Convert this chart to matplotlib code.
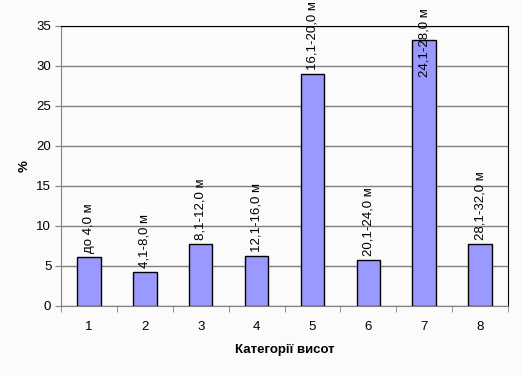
import numpy as np
import matplotlib.pyplot as plt

# height categories and share of trees (%)
categories = ['1', '2', '3', '4', '5', '6', '7', '8']
values = [6.1, 4.2, 7.7, 6.2, 29.0, 5.7, 33.2, 7.7]
bar_labels = ['до 4,0 м', '4,1-8,0 м', '8,1-12,0 м', '12,1-16,0 м',
              '16,1-20,0 м', '20,1-24,0 м', '24,1-28,0 м', '28,1-32,0 м']
y_ticks = [0, 5, 10, 15, 20, 25, 30, 35]

plt.rcParams['font.family'] = ['Liberation Sans', 'DejaVu Sans']

fig = plt.figure(figsize=(5.22, 3.76), dpi=100, facecolor='#fbfbfb')
ax = fig.add_axes([0.1169, 0.1862, 0.8563, 0.7447])
ax.set_facecolor('#fbfbfb')

x = np.arange(len(categories))
ax.bar(x, values, width=0.42, color='#9999ff', edgecolor='black', linewidth=1, zorder=3)

ax.set_xlim(-0.5, len(categories) - 0.5)
ax.set_ylim(0, 35)
ax.set_yticks(y_ticks)
ax.set_yticklabels([str(t) for t in y_ticks], fontsize=9.5)
ax.set_xticks(x)
ax.set_xticklabels(categories, fontsize=9.5)
ax.set_xticks(np.arange(len(categories) + 1) - 0.5, minor=True)
ax.tick_params(axis='x', which='major', length=0, pad=11)
ax.tick_params(axis='x', which='minor', length=4, direction='out', color='#808080')
ax.tick_params(axis='y', length=4, direction='out', color='#808080', pad=3)

ax.yaxis.grid(True, color='#808080', linewidth=1, zorder=0)
for side in ['left', 'bottom']:
    ax.spines[side].set_color('#808080')
for side in ['top', 'right']:
    ax.spines[side].set_color('black')

# rotated category labels above bars; keep inside the figure
top_limit = 1.064
for xi, v, lab in zip(x, values, bar_labels):
    if v > 31:
        ax.text(xi, top_limit, lab, transform=ax.get_xaxis_transform(),
                rotation=90, ha='center', va='top', fontsize=9.5, zorder=4)
    else:
        ax.annotate(lab, (xi, v), xytext=(0, 3), textcoords='offset points',
                    rotation=90, ha='center', va='bottom', fontsize=9.5, zorder=4)

ax.set_xlabel('Категорії висот', fontsize=9.5, fontweight='bold', labelpad=8)
ax.set_ylabel('%', fontsize=9.5, fontweight='bold', labelpad=4)

fig.savefig('out.png', dpi=100, facecolor=fig.get_facecolor())
